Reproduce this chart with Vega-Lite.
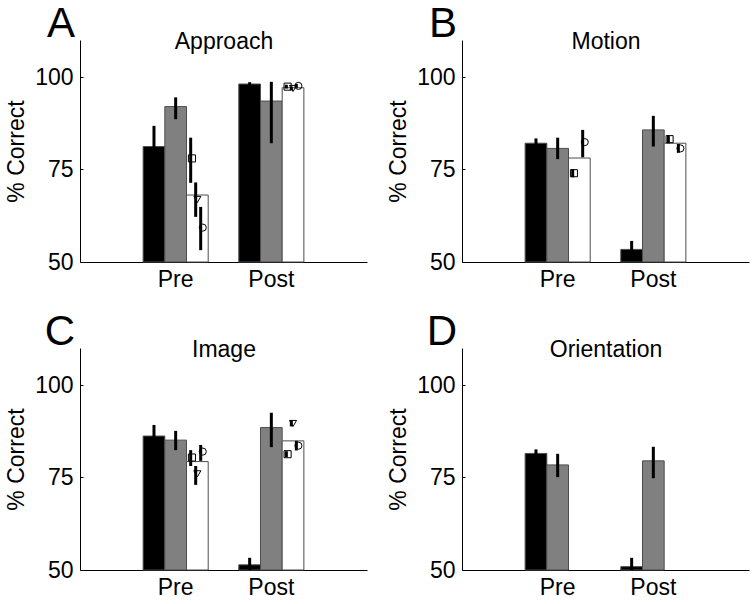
{
  "$schema": "https://vega.github.io/schema/vega-lite/v6.json",
  "padding": {"left": 5, "top": 3, "right": 5, "bottom": 5},
  "background": "white",
  "datasets": {
    "bars": [
      {"panel": "A", "phase": "Pre", "cond": "black", "mean": 81.2, "lo": 75.6, "hi": 86.8},
      {"panel": "A", "phase": "Pre", "cond": "gray", "mean": 92.0, "lo": 88.6, "hi": 94.5},
      {"panel": "A", "phase": "Pre", "cond": "white", "mean": 68.1, "lo": null, "hi": null},
      {"panel": "A", "phase": "Post", "cond": "black", "mean": 98.1, "lo": 97.6, "hi": 98.6},
      {"panel": "A", "phase": "Post", "cond": "gray", "mean": 93.5, "lo": 82.1, "hi": 98.7},
      {"panel": "A", "phase": "Post", "cond": "white", "mean": 97.1, "lo": null, "hi": null},
      {"panel": "B", "phase": "Pre", "cond": "black", "mean": 82.1, "lo": 80.8, "hi": 83.4},
      {"panel": "B", "phase": "Pre", "cond": "gray", "mean": 80.7, "lo": 77.8, "hi": 83.6},
      {"panel": "B", "phase": "Pre", "cond": "white", "mean": 78.1, "lo": null, "hi": null},
      {"panel": "B", "phase": "Post", "cond": "black", "mean": 53.4, "lo": 51.1, "hi": 55.7},
      {"panel": "B", "phase": "Post", "cond": "gray", "mean": 85.7, "lo": 81.2, "hi": 89.5},
      {"panel": "B", "phase": "Post", "cond": "white", "mean": 82.1, "lo": null, "hi": null},
      {"panel": "C", "phase": "Pre", "cond": "black", "mean": 86.2, "lo": 83.2, "hi": 89.2},
      {"panel": "C", "phase": "Pre", "cond": "gray", "mean": 85.1, "lo": 82.4, "hi": 87.6},
      {"panel": "C", "phase": "Pre", "cond": "white", "mean": 79.3, "lo": null, "hi": null},
      {"panel": "C", "phase": "Post", "cond": "black", "mean": 51.4, "lo": 50.0, "hi": 53.3},
      {"panel": "C", "phase": "Post", "cond": "gray", "mean": 88.5, "lo": 83.2, "hi": 92.5},
      {"panel": "C", "phase": "Post", "cond": "white", "mean": 84.9, "lo": null, "hi": null},
      {"panel": "D", "phase": "Pre", "cond": "black", "mean": 81.5, "lo": 80.4, "hi": 82.6},
      {"panel": "D", "phase": "Pre", "cond": "gray", "mean": 78.4, "lo": 75.1, "hi": 81.4},
      {"panel": "D", "phase": "Post", "cond": "black", "mean": 50.9, "lo": 50.0, "hi": 53.3},
      {"panel": "D", "phase": "Post", "cond": "gray", "mean": 79.5, "lo": 74.8, "hi": 83.3}
    ],
    "subj": [
      {"panel": "A", "phase": "Pre", "subj": "sq", "val": 78.0, "lo": 71.4, "hi": 83.6},
      {"panel": "A", "phase": "Pre", "subj": "tri", "val": 66.9, "lo": 62.2, "hi": 71.5},
      {"panel": "A", "phase": "Pre", "subj": "circ", "val": 59.3, "lo": 53.2, "hi": 64.9},
      {"panel": "A", "phase": "Post", "subj": "sq", "val": 97.4, "lo": 96.9, "hi": 97.9},
      {"panel": "A", "phase": "Post", "subj": "tri", "val": 96.9, "lo": 96.4, "hi": 97.4},
      {"panel": "A", "phase": "Post", "subj": "circ", "val": 97.6, "lo": 97.1, "hi": 98.1},
      {"panel": "B", "phase": "Pre", "subj": "sq", "val": 74.0, "lo": 72.9, "hi": 75.1},
      {"panel": "B", "phase": "Pre", "subj": "circ", "val": 82.4, "lo": 78.3, "hi": 85.7},
      {"panel": "B", "phase": "Post", "subj": "sq", "val": 83.2, "lo": 82.1, "hi": 84.2},
      {"panel": "B", "phase": "Post", "subj": "circ", "val": 80.7, "lo": 79.5, "hi": 81.9},
      {"panel": "C", "phase": "Pre", "subj": "sq", "val": 80.4, "lo": 78.1, "hi": 82.4},
      {"panel": "C", "phase": "Pre", "subj": "tri", "val": 76.0, "lo": 73.0, "hi": 78.1},
      {"panel": "C", "phase": "Pre", "subj": "circ", "val": 82.0, "lo": 79.5, "hi": 83.8},
      {"panel": "C", "phase": "Post", "subj": "sq", "val": 81.3, "lo": 80.5, "hi": 82.1},
      {"panel": "C", "phase": "Post", "subj": "tri", "val": 89.6, "lo": 88.8, "hi": 90.4},
      {"panel": "C", "phase": "Post", "subj": "circ", "val": 83.6, "lo": 82.3, "hi": 84.9}
    ]
  },
  "columns": 2,
  "spacing": {"row": 20, "column": 20},
  "concat": [
    {
      "width": 287, "height": 222,
      "title": {"text": "A", "anchor": "start", "align": "right", "dx": -5, "dy": 49, "offset": 0, "fontSize": 42, "fontWeight": "normal", "baseline": "alphabetic", "frame": "group"},
      "resolve": {"scale": {"xOffset": "independent"}, "axis": {"x": "independent"}},
      "layer": [
        {"data": {"name": "bars"}, "transform": [{"filter": "datum.panel == 'A'"}],
         "mark": {"type": "bar", "stroke": "#4d4d4d", "strokeWidth": 1},
         "encoding": {
           "x": {"field": "phase", "type": "nominal", "scale": {"domain": ["Pre", "Post"], "paddingInner": 0.32, "paddingOuter": 0.66}, "axis": {"orient": "bottom", "title": null, "labelAngle": 0, "ticks": false, "labelPadding": 6}},
           "xOffset": {"field": "cond", "type": "nominal", "scale": {"domain": ["black", "gray", "white"], "paddingInner": 0, "paddingOuter": 0}},
           "y": {"field": "mean", "type": "quantitative", "scale": {"domain": [50, 110], "nice": false, "zero": false}, "title": "% Correct", "axis": {"values": [50, 75, 100]}},
           "y2": {"datum": 50},
           "color": {"field": "cond", "type": "nominal", "scale": {"domain": ["black", "gray", "white"], "range": ["#000000", "#808080", "#ffffff"]}, "legend": null}
         }},
        {"data": {"name": "bars"}, "transform": [{"filter": "datum.panel == 'A' && datum.lo != null"}],
         "mark": {"type": "rule", "strokeWidth": 3, "color": "#000000"},
         "encoding": {
           "x": {"field": "phase", "type": "nominal", "axis": {"orient": "top", "title": "Approach", "labels": false, "ticks": false, "domain": false, "titlePadding": -8, "titleBaseline": "alphabetic"}},
           "xOffset": {"field": "cond", "type": "nominal", "scale": {"domain": ["black", "gray", "white"], "paddingInner": 0, "paddingOuter": 0}},
           "y": {"field": "lo", "type": "quantitative", "title": "% Correct", "axis": {"values": [50, 75, 100]}},
           "y2": {"field": "hi"}
         }},
        {"data": {"name": "subj"}, "transform": [{"filter": "datum.panel == 'A'"}],
         "mark": {"type": "rule", "strokeWidth": 3, "color": "#000000"},
         "encoding": {
           "x": {"field": "phase", "type": "nominal", "axis": null},
           "xOffset": {"field": "subj", "type": "nominal", "scale": {"domain": ["s0", "s1", "s2", "s3", "s4", "s5", "s6", "s7", "s8", "sq", "tri", "circ", "s12"], "paddingInner": 0, "paddingOuter": 0}},
           "y": {"field": "lo", "type": "quantitative", "title": "% Correct", "axis": {"values": [50, 75, 100]}},
           "y2": {"field": "hi"}
         }},
        {"data": {"name": "subj"}, "transform": [{"filter": "datum.panel == 'A'"}],
         "mark": {"type": "point", "filled": false, "color": "#000000", "strokeWidth": 1, "size": 50, "opacity": 1},
         "encoding": {
           "x": {"field": "phase", "type": "nominal", "axis": null},
           "xOffset": {"field": "subj", "type": "nominal", "scale": {"domain": ["s0", "s1", "s2", "s3", "s4", "s5", "s6", "s7", "s8", "sq", "tri", "circ", "s12"], "paddingInner": 0, "paddingOuter": 0}},
           "y": {"field": "val", "type": "quantitative", "title": "% Correct", "axis": {"values": [50, 75, 100]}},
           "shape": {"field": "subj", "type": "nominal", "scale": {"domain": ["sq", "tri", "circ"], "range": ["square", "triangle-down", "circle"]}, "legend": null}
         }}
      ]
    },
    {
      "width": 287, "height": 222,
      "title": {"text": "B", "anchor": "start", "align": "right", "dx": -5, "dy": 49, "offset": 0, "fontSize": 42, "fontWeight": "normal", "baseline": "alphabetic", "frame": "group"},
      "resolve": {"scale": {"xOffset": "independent"}, "axis": {"x": "independent"}},
      "layer": [
        {"data": {"name": "bars"}, "transform": [{"filter": "datum.panel == 'B'"}],
         "mark": {"type": "bar", "stroke": "#4d4d4d", "strokeWidth": 1},
         "encoding": {
           "x": {"field": "phase", "type": "nominal", "scale": {"domain": ["Pre", "Post"], "paddingInner": 0.32, "paddingOuter": 0.66}, "axis": {"orient": "bottom", "title": null, "labelAngle": 0, "ticks": false, "labelPadding": 6}},
           "xOffset": {"field": "cond", "type": "nominal", "scale": {"domain": ["black", "gray", "white"], "paddingInner": 0, "paddingOuter": 0}},
           "y": {"field": "mean", "type": "quantitative", "scale": {"domain": [50, 110], "nice": false, "zero": false}, "title": "% Correct", "axis": {"values": [50, 75, 100]}},
           "y2": {"datum": 50},
           "color": {"field": "cond", "type": "nominal", "scale": {"domain": ["black", "gray", "white"], "range": ["#000000", "#808080", "#ffffff"]}, "legend": null}
         }},
        {"data": {"name": "bars"}, "transform": [{"filter": "datum.panel == 'B' && datum.lo != null"}],
         "mark": {"type": "rule", "strokeWidth": 3, "color": "#000000"},
         "encoding": {
           "x": {"field": "phase", "type": "nominal", "axis": {"orient": "top", "title": "Motion", "labels": false, "ticks": false, "domain": false, "titlePadding": -8, "titleBaseline": "alphabetic"}},
           "xOffset": {"field": "cond", "type": "nominal", "scale": {"domain": ["black", "gray", "white"], "paddingInner": 0, "paddingOuter": 0}},
           "y": {"field": "lo", "type": "quantitative", "title": "% Correct", "axis": {"values": [50, 75, 100]}},
           "y2": {"field": "hi"}
         }},
        {"data": {"name": "subj"}, "transform": [{"filter": "datum.panel == 'B'"}],
         "mark": {"type": "rule", "strokeWidth": 3, "color": "#000000"},
         "encoding": {
           "x": {"field": "phase", "type": "nominal", "axis": null},
           "xOffset": {"field": "subj", "type": "nominal", "scale": {"domain": ["s0", "s1", "s2", "s3", "s4", "s5", "s6", "s7", "s8", "sq", "tri", "circ", "s12"], "paddingInner": 0, "paddingOuter": 0}},
           "y": {"field": "lo", "type": "quantitative", "title": "% Correct", "axis": {"values": [50, 75, 100]}},
           "y2": {"field": "hi"}
         }},
        {"data": {"name": "subj"}, "transform": [{"filter": "datum.panel == 'B'"}],
         "mark": {"type": "point", "filled": false, "color": "#000000", "strokeWidth": 1, "size": 50, "opacity": 1},
         "encoding": {
           "x": {"field": "phase", "type": "nominal", "axis": null},
           "xOffset": {"field": "subj", "type": "nominal", "scale": {"domain": ["s0", "s1", "s2", "s3", "s4", "s5", "s6", "s7", "s8", "sq", "tri", "circ", "s12"], "paddingInner": 0, "paddingOuter": 0}},
           "y": {"field": "val", "type": "quantitative", "title": "% Correct", "axis": {"values": [50, 75, 100]}},
           "shape": {"field": "subj", "type": "nominal", "scale": {"domain": ["sq", "tri", "circ"], "range": ["square", "triangle-down", "circle"]}, "legend": null}
         }}
      ]
    },
    {
      "width": 287, "height": 222,
      "title": {"text": "C", "anchor": "start", "align": "right", "dx": -5, "dy": 49, "offset": 0, "fontSize": 42, "fontWeight": "normal", "baseline": "alphabetic", "frame": "group"},
      "resolve": {"scale": {"xOffset": "independent"}, "axis": {"x": "independent"}},
      "layer": [
        {"data": {"name": "bars"}, "transform": [{"filter": "datum.panel == 'C'"}],
         "mark": {"type": "bar", "stroke": "#4d4d4d", "strokeWidth": 1},
         "encoding": {
           "x": {"field": "phase", "type": "nominal", "scale": {"domain": ["Pre", "Post"], "paddingInner": 0.32, "paddingOuter": 0.66}, "axis": {"orient": "bottom", "title": null, "labelAngle": 0, "ticks": false, "labelPadding": 6}},
           "xOffset": {"field": "cond", "type": "nominal", "scale": {"domain": ["black", "gray", "white"], "paddingInner": 0, "paddingOuter": 0}},
           "y": {"field": "mean", "type": "quantitative", "scale": {"domain": [50, 110], "nice": false, "zero": false}, "title": "% Correct", "axis": {"values": [50, 75, 100]}},
           "y2": {"datum": 50},
           "color": {"field": "cond", "type": "nominal", "scale": {"domain": ["black", "gray", "white"], "range": ["#000000", "#808080", "#ffffff"]}, "legend": null}
         }},
        {"data": {"name": "bars"}, "transform": [{"filter": "datum.panel == 'C' && datum.lo != null"}],
         "mark": {"type": "rule", "strokeWidth": 3, "color": "#000000"},
         "encoding": {
           "x": {"field": "phase", "type": "nominal", "axis": {"orient": "top", "title": "Image", "labels": false, "ticks": false, "domain": false, "titlePadding": -8, "titleBaseline": "alphabetic"}},
           "xOffset": {"field": "cond", "type": "nominal", "scale": {"domain": ["black", "gray", "white"], "paddingInner": 0, "paddingOuter": 0}},
           "y": {"field": "lo", "type": "quantitative", "title": "% Correct", "axis": {"values": [50, 75, 100]}},
           "y2": {"field": "hi"}
         }},
        {"data": {"name": "subj"}, "transform": [{"filter": "datum.panel == 'C'"}],
         "mark": {"type": "rule", "strokeWidth": 3, "color": "#000000"},
         "encoding": {
           "x": {"field": "phase", "type": "nominal", "axis": null},
           "xOffset": {"field": "subj", "type": "nominal", "scale": {"domain": ["s0", "s1", "s2", "s3", "s4", "s5", "s6", "s7", "s8", "sq", "tri", "circ", "s12"], "paddingInner": 0, "paddingOuter": 0}},
           "y": {"field": "lo", "type": "quantitative", "title": "% Correct", "axis": {"values": [50, 75, 100]}},
           "y2": {"field": "hi"}
         }},
        {"data": {"name": "subj"}, "transform": [{"filter": "datum.panel == 'C'"}],
         "mark": {"type": "point", "filled": false, "color": "#000000", "strokeWidth": 1, "size": 50, "opacity": 1},
         "encoding": {
           "x": {"field": "phase", "type": "nominal", "axis": null},
           "xOffset": {"field": "subj", "type": "nominal", "scale": {"domain": ["s0", "s1", "s2", "s3", "s4", "s5", "s6", "s7", "s8", "sq", "tri", "circ", "s12"], "paddingInner": 0, "paddingOuter": 0}},
           "y": {"field": "val", "type": "quantitative", "title": "% Correct", "axis": {"values": [50, 75, 100]}},
           "shape": {"field": "subj", "type": "nominal", "scale": {"domain": ["sq", "tri", "circ"], "range": ["square", "triangle-down", "circle"]}, "legend": null}
         }}
      ]
    },
    {
      "width": 287, "height": 222,
      "title": {"text": "D", "anchor": "start", "align": "right", "dx": -5, "dy": 49, "offset": 0, "fontSize": 42, "fontWeight": "normal", "baseline": "alphabetic", "frame": "group"},
      "resolve": {"scale": {"xOffset": "independent"}, "axis": {"x": "independent"}},
      "layer": [
        {"data": {"name": "bars"}, "transform": [{"filter": "datum.panel == 'D'"}],
         "mark": {"type": "bar", "stroke": "#4d4d4d", "strokeWidth": 1},
         "encoding": {
           "x": {"field": "phase", "type": "nominal", "scale": {"domain": ["Pre", "Post"], "paddingInner": 0.32, "paddingOuter": 0.66}, "axis": {"orient": "bottom", "title": null, "labelAngle": 0, "ticks": false, "labelPadding": 6}},
           "xOffset": {"field": "cond", "type": "nominal", "scale": {"domain": ["black", "gray", "white"], "paddingInner": 0, "paddingOuter": 0}},
           "y": {"field": "mean", "type": "quantitative", "scale": {"domain": [50, 110], "nice": false, "zero": false}, "title": "% Correct", "axis": {"values": [50, 75, 100]}},
           "y2": {"datum": 50},
           "color": {"field": "cond", "type": "nominal", "scale": {"domain": ["black", "gray", "white"], "range": ["#000000", "#808080", "#ffffff"]}, "legend": null}
         }},
        {"data": {"name": "bars"}, "transform": [{"filter": "datum.panel == 'D' && datum.lo != null"}],
         "mark": {"type": "rule", "strokeWidth": 3, "color": "#000000"},
         "encoding": {
           "x": {"field": "phase", "type": "nominal", "axis": {"orient": "top", "title": "Orientation", "labels": false, "ticks": false, "domain": false, "titlePadding": -8, "titleBaseline": "alphabetic"}},
           "xOffset": {"field": "cond", "type": "nominal", "scale": {"domain": ["black", "gray", "white"], "paddingInner": 0, "paddingOuter": 0}},
           "y": {"field": "lo", "type": "quantitative", "title": "% Correct", "axis": {"values": [50, 75, 100]}},
           "y2": {"field": "hi"}
         }}
      ]
    }
  ],
  "config": {
    "font": "Liberation Sans",
    "view": {"stroke": null},
    "axis": {"domainColor": "#000000", "labelColor": "#000000", "titleColor": "#000000", "labelFontSize": 23, "titleFontSize": 23, "titleFontWeight": "normal", "grid": false, "domainWidth": 1},
    "axisY": {"tickSize": -3, "tickColor": "#000000", "labelPadding": 10, "titlePadding": 6},
    "title": {"color": "#000000"}
  }
}
